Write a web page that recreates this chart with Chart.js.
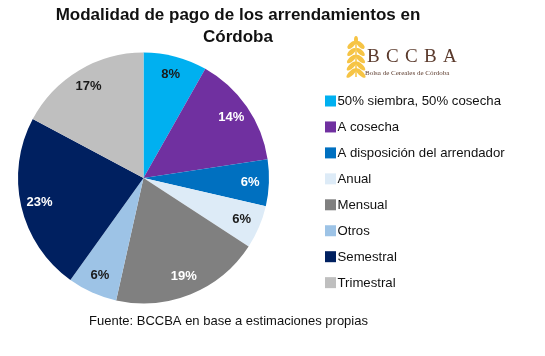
<!DOCTYPE html>
<html><head><meta charset="utf-8">
<script src="https://cdn.jsdelivr.net/npm/chart.js@4/dist/chart.umd.min.js"></script>
<style>html,body{margin:0;padding:0;background:#fff;} #wrap{position:relative;width:545px;height:356px;}</style>
</head><body><div id="wrap"><canvas id="c" width="545" height="356"></canvas></div>
<script>
const titleLines = ["Modalidad de pago de los arrendamientos en", "Córdoba"];
const sourceNote = "Fuente: BCCBA en base a estimaciones propias";
const logoName = "BCCBA";
const logoSub = "Bolsa de Cereales de Córdoba";
const categories = ["50% siembra, 50% cosecha", "A cosecha", "A disposición del arrendador", "Anual", "Mensual", "Otros", "Semestral", "Trimestral"];
const shares = [8.2, 14.4, 6.0, 5.6, 19.3, 6.4, 22.9, 17.2];
const sliceColors = ["#00B0F0", "#7030A0", "#0070C0", "#DDEBF7", "#808080", "#9DC3E6", "#002060", "#BFBFBF"];
const labelColors = ["#1a1a1a", "#ffffff", "#ffffff", "#1a1a1a", "#ffffff", "#1a1a1a", "#ffffff", "#1a1a1a"];

const FONT = "'Liberation Sans', Arial, sans-serif";

const sliceLabels = {
  id: 'sliceLabels',
  afterDatasetsDraw(chart) {
    const ctx = chart.ctx;
    const meta = chart.getDatasetMeta(0);
    const data = chart.data.datasets[0].data;
    const total = data.reduce((a, b) => a + b, 0);
    ctx.save();
    ctx.font = "bold 13px " + FONT;
    ctx.textAlign = 'center';
    ctx.textBaseline = 'middle';
    meta.data.forEach((arc, i) => {
      const p = arc.getProps(['x', 'y', 'startAngle', 'endAngle', 'outerRadius'], true);
      const mid = (p.startAngle + p.endAngle) / 2;
      const r = p.outerRadius * 0.85;
      ctx.fillStyle = labelColors[i];
      ctx.fillText(Math.round(data[i] / total * 100) + '%', p.x + Math.cos(mid) * r, p.y + Math.sin(mid) * r);
    });
    ctx.restore();
  }
};

const decor = {
  id: 'decor',
  afterDraw(chart) {
    const ctx = chart.ctx;
    ctx.save();
    // title
    ctx.fillStyle = '#111111';
    ctx.font = "bold 17px " + FONT;
    ctx.textAlign = 'center';
    ctx.textBaseline = 'alphabetic';
    ctx.fillText(titleLines[0], 238, 19.5);
    ctx.fillText(titleLines[1], 238, 41.5);
    // source
    ctx.font = "13px " + FONT;
    ctx.fillStyle = '#111111';
    ctx.fillText(sourceNote, 228.5, 325);
    // legend
    const ds = chart.data.datasets[0];
    ctx.textAlign = 'left';
    ctx.textBaseline = 'middle';
    ctx.font = "13.2px " + FONT;
    chart.data.labels.forEach((lab, i) => {
      const cy = 101 + i * 25.95;
      ctx.fillStyle = ds.backgroundColor[i];
      ctx.fillRect(325, cy - 5.5, 11, 11);
      ctx.fillStyle = '#111111';
      ctx.fillText(lab, 337.5, cy + 0.5);
    });
    // logo wheat
    ctx.fillStyle = '#F6C445';
    ctx.strokeStyle = '#F6C445';
    ctx.lineWidth = 1.5;
    ctx.beginPath(); ctx.moveTo(356, 77); ctx.lineTo(356, 41); ctx.stroke();
    for (let k = 0; k < 5; k++) {
      const yy = 45 + k * 7;
      const w = 5 + k * 0.4;
      ctx.save(); ctx.translate(351.5, yy); ctx.rotate(-0.75);
      ctx.beginPath(); ctx.ellipse(0, 0, w, 2.4, 0, 0, Math.PI * 2); ctx.fill(); ctx.restore();
      ctx.save(); ctx.translate(360.5, yy); ctx.rotate(0.75);
      ctx.beginPath(); ctx.ellipse(0, 0, w, 2.4, 0, 0, Math.PI * 2); ctx.fill(); ctx.restore();
    }
    ctx.beginPath(); ctx.ellipse(356, 40, 2, 4, 0, 0, Math.PI * 2); ctx.fill();
    // logo text
    ctx.fillStyle = '#5B3A2C';
    ctx.font = "19px 'Liberation Serif', 'DejaVu Serif', serif";
    ctx.textAlign = 'left';
    ctx.textBaseline = 'alphabetic';
    let lx = 367;
    for (const ch of logoName) { ctx.fillText(ch, lx, 62); lx += 19; }
    ctx.font = "7px 'Liberation Serif', serif";
    ctx.fillText(logoSub, 365, 75);
    ctx.restore();
  }
};

new Chart(document.getElementById('c'), {
  type: 'pie',
  data: {
    labels: categories,
    datasets: [{ data: shares, backgroundColor: sliceColors, borderWidth: 0 }]
  },
  options: {
    responsive: false,
    devicePixelRatio: 1,
    animation: false,
    layout: { padding: { left: 18, top: 52, right: 276, bottom: 52 } },
    plugins: { legend: { display: false }, tooltip: { enabled: false }, title: { display: false } }
  },
  plugins: [sliceLabels, decor]
});
</script></body></html>
